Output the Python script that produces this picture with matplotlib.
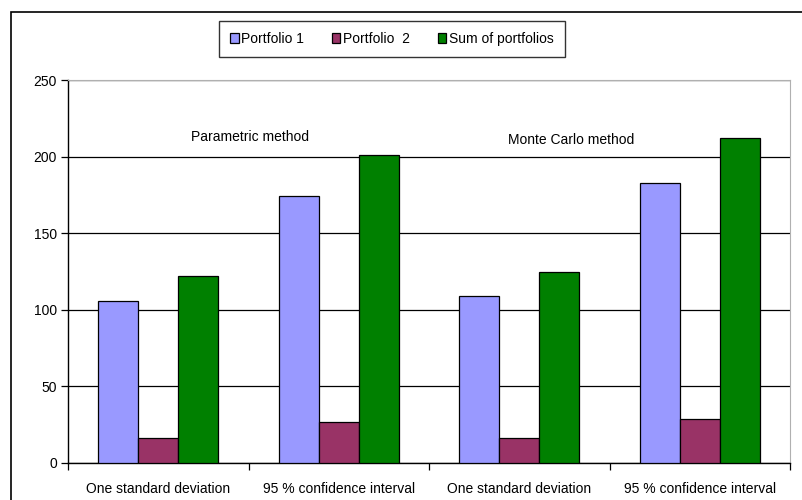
import matplotlib
matplotlib.use('Agg')
import matplotlib.pyplot as plt
from matplotlib.patches import Rectangle
import numpy as np

plt.rcParams['font.family'] = ['Liberation Sans', 'DejaVu Sans']

categories = ["One standard deviation", "95 % confidence interval",
              "One standard deviation", "95 % confidence interval"]
portfolio1 = [106, 174, 109, 183]
portfolio2 = [16, 27, 16, 29]
sum_portfolios = [122, 201, 125, 212]
series_names = ["Portfolio 1", "Portfolio  2", "Sum of portfolios"]
method_labels = ["Parametric method", "Monte Carlo method"]

colors = ["#9999FF", "#993366", "#008000"]

fig = plt.figure(figsize=(8.02, 5.0), dpi=100)
ax = fig.add_axes([68 / 802, 37 / 500, 722 / 802, 383 / 500])

# outer chart frame
fig.patches.append(Rectangle((11 / 802, -0.05), 1.1, (500 - 12) / 500 + 0.05,
                             transform=fig.transFigure, fill=False,
                             edgecolor="black", linewidth=1.2))

x = np.arange(len(categories)) + 0.5
w = 0.222
for i, (vals, name) in enumerate(zip([portfolio1, portfolio2, sum_portfolios], series_names)):
    ax.bar(x + (i - 1) * w, vals, width=w, color=colors[i], edgecolor="black",
           linewidth=0.9, label=name, zorder=3)

ax.set_xlim(0, 4)
ax.set_ylim(0, 250)
ax.set_yticks(range(0, 251, 50))
ax.yaxis.grid(True, color="black", linewidth=0.9, zorder=0)
ax.set_axisbelow(True)

ax.set_xticks(range(0, 5))
ax.set_xticklabels([])
ax.set_xticks(x, minor=True)
ax.set_xticklabels(categories, minor=True, fontsize=10)
ax.tick_params(axis="x", which="major", direction="out", length=5, width=0.9)
ax.tick_params(axis="x", which="minor", length=0, pad=14)
ax.tick_params(axis="y", direction="out", length=5, width=0.9, labelsize=10, pad=3)

for s in ["top", "right"]:
    ax.spines[s].set_color("#B0B0B0")
    ax.spines[s].set_linewidth(0.8)
for s in ["left", "bottom"]:
    ax.spines[s].set_linewidth(1.0)

ax.text(1.01, 213, method_labels[0], ha="center", va="center", fontsize=10)
ax.text(2.79, 211, method_labels[1], ha="center", va="center", fontsize=10)

leg = fig.legend(loc="center", bbox_to_anchor=(392 / 802, 1 - 39 / 500), ncol=3,
                 fontsize=10, frameon=True, fancybox=False, handlelength=0.6,
                 handleheight=0.7, handletextpad=0.2, columnspacing=2.0,
                 borderpad=0.8, borderaxespad=0)
leg.get_frame().set_edgecolor("black")
leg.get_frame().set_linewidth(1.0)

fig.savefig("out.png", dpi=100)
